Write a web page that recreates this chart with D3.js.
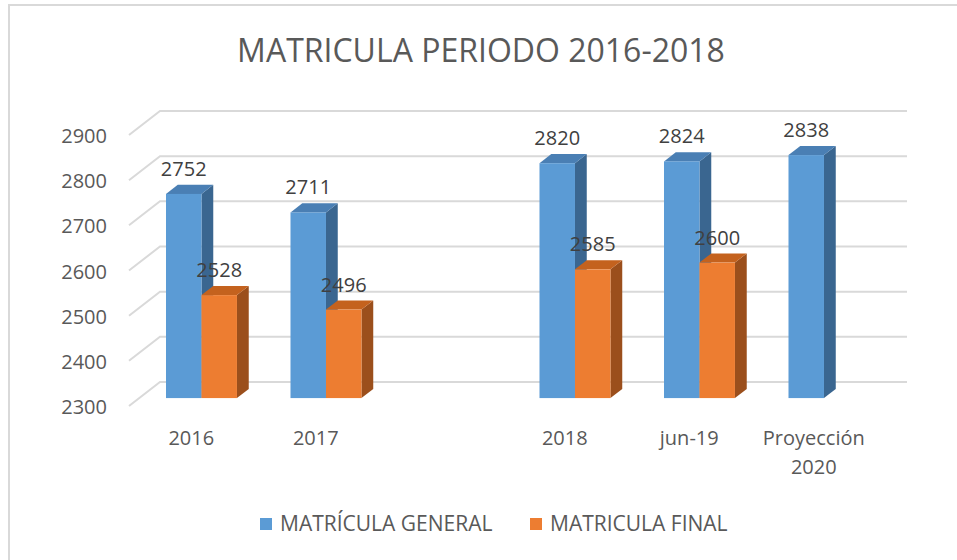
<!DOCTYPE html>
<html>
<head>
<meta charset="utf-8">
<script src="https://cdn.jsdelivr.net/npm/d3@7"></script>
<style>
  body { margin: 0; background: #fff; }
  text { font-family: "Open Sans", sans-serif; }
</style>
</head>
<body>
<div id="chart"></div>
<script>
// data
const categories = ["2016", "2017", "", "2018", "jun-19", "Proyección\n2020"];
const seriesNames = ["MATRÍCULA GENERAL", "MATRICULA FINAL"];
const matriculaGeneral = [2752, 2711, null, 2820, 2824, 2838];
const matriculaFinal = [2528, 2496, null, 2585, 2600, null];
const yTicks = [2300, 2400, 2500, 2600, 2700, 2800, 2900];

const width = 957, height = 560;

// colours: front, top, side
const palette = [
  {front: "#5b9bd5", top: "#4a7fb4", side: "#3a6690"},
  {front: "#ed7d31", top: "#c4621e", side: "#9b4f1c"}
];

// depth of the 3d box (front plane -> back wall)
const DX = 31, DY = -24;
const t0 = 0.33, t1 = 0.71; // bar front / back depth

const svg = d3.select("#chart").append("svg")
  .attr("width", width)
  .attr("height", height);

// chart frame
svg.append("rect")
  .attr("x", 9).attr("y", 5)
  .attr("width", 960).attr("height", 570)
  .attr("fill", "#fff")
  .attr("stroke", "#d9d9d9")
  .attr("stroke-width", 2);

// title
svg.append("text")
  .attr("x", 481).attr("y", 62)
  .attr("text-anchor", "middle")
  .attr("fill", "#595959")
  .style("font-size", "32px")
  .text("MATRICULA PERIODO 2016-2018");

const x0 = d3.scaleBand()
  .domain(categories)
  .range([129, 876])
  .paddingInner(0.43)
  .paddingOuter(0.215);

const x1 = d3.scaleBand()
  .domain(seriesNames)
  .range([0, x0.bandwidth()]);

const y = d3.scaleLinear()
  .domain([2300, 2900])
  .range([406, 135]);

// gridlines: back wall + left side stubs
const grid = svg.append("g").attr("stroke", "#d9d9d9").attr("stroke-width", 2).attr("fill", "none");
grid.selectAll("path")
  .data(yTicks)
  .enter()
  .append("path")
  .attr("d", d => `M${x0.range()[0]},${y(d)} L${x0.range()[0] + DX},${y(d) + DY} L${x0.range()[1] + DX},${y(d) + DY}`);

// y labels
svg.append("g")
  .selectAll("text")
  .data(yTicks)
  .enter()
  .append("text")
  .attr("x", 107)
  .attr("y", d => y(d) + 1)
  .attr("dy", "0.35em")
  .attr("text-anchor", "end")
  .attr("fill", "#595959")
  .style("font-size", "20px")
  .text(d => d);

// bars
const bars = [];
categories.forEach((c, i) => {
  [matriculaGeneral, matriculaFinal].forEach((s, j) => {
    if (s[i] != null) bars.push({cat: c, series: seriesNames[j], si: j, value: s[i]});
  });
});

const fx = t0 * DX, fy = t0 * DY, bx = t1 * DX, by = t1 * DY;
const base = y(2300);

const barG = svg.append("g")
  .selectAll("g")
  .data(bars)
  .enter()
  .append("g");

barG.append("path") // side
  .attr("d", d => {
    const xr = x0(d.cat) + x1(d.series) + x1.bandwidth(), yt = y(d.value);
    return `M${xr + fx},${yt + fy} L${xr + bx},${yt + by} L${xr + bx},${base + by} L${xr + fx},${base + fy}Z`;
  })
  .attr("fill", d => palette[d.si].side);

barG.append("path") // top
  .attr("d", d => {
    const xl = x0(d.cat) + x1(d.series), xr = xl + x1.bandwidth(), yt = y(d.value);
    return `M${xl + fx},${yt + fy} L${xr + fx},${yt + fy} L${xr + bx},${yt + by} L${xl + bx},${yt + by}Z`;
  })
  .attr("fill", d => palette[d.si].top);

barG.append("rect") // front
  .attr("x", d => x0(d.cat) + x1(d.series) + fx)
  .attr("y", d => y(d.value) + fy)
  .attr("width", x1.bandwidth())
  .attr("height", d => base - y(d.value))
  .attr("fill", d => palette[d.si].front);

// data labels
svg.append("g")
  .selectAll("text")
  .data(bars)
  .enter()
  .append("text")
  .attr("x", d => x0(d.cat) + x1(d.series) + fx + x1.bandwidth() / 2)
  .attr("y", d => y(d.value) + fy - 18)
  .attr("text-anchor", "middle")
  .attr("fill", "#404040")
  .style("font-size", "20px")
  .text(d => d.value);

// category labels
const catG = svg.append("g")
  .selectAll("text")
  .data(categories)
  .enter()
  .append("text")
  .attr("x", d => x0(d) + x0.bandwidth() / 2)
  .attr("y", 445)
  .attr("text-anchor", "middle")
  .attr("fill", "#595959")
  .style("font-size", "20px");

catG.selectAll("tspan")
  .data(d => d.split("\n"))
  .enter()
  .append("tspan")
  .attr("x", function() { return d3.select(this.parentNode).attr("x"); })
  .attr("dy", (d, i) => i === 0 ? 0 : 29)
  .text(d => d);

// legend
const legendX = [260, 530];
const legend = svg.append("g")
  .selectAll("g")
  .data(seriesNames)
  .enter()
  .append("g")
  .attr("transform", (d, i) => `translate(${legendX[i]},518)`);

legend.append("rect")
  .attr("width", 12).attr("height", 12)
  .attr("fill", (d, i) => palette[i].front);

legend.append("text")
  .attr("x", 20)
  .attr("y", 13)
  .attr("fill", "#595959")
  .style("font-size", "21px")
  .text(d => d);
</script>
</body>
</html>
